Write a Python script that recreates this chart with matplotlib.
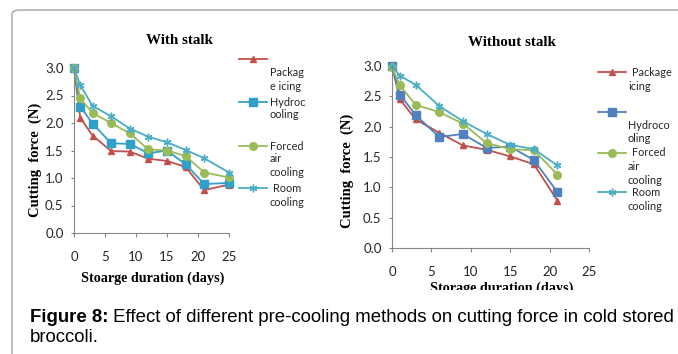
import matplotlib
matplotlib.use('Agg')
import matplotlib.pyplot as plt
from matplotlib.lines import Line2D
from matplotlib.patches import FancyBboxPatch, Rectangle

W, H = 678, 354

# with stalk
days_ws = [0, 1, 3, 6, 9, 12, 15, 18, 21, 25]
pkg_ws = [3.0, 2.1, 1.77, 1.49, 1.48, 1.35, 1.31, 1.2, 0.78, 0.88]
hydro_ws = [3.0, 2.3, 1.99, 1.63, 1.62, 1.45, 1.5, 1.25, 0.89, 0.91]
forced_ws = [3.0, 2.45, 2.18, 2.0, 1.81, 1.52, 1.5, 1.4, 1.1, 1.01]
room_ws = [3.0, 2.69, 2.31, 2.12, 1.9, 1.75, 1.65, 1.51, 1.36, 1.1]

# without stalk
days_wo = [0, 1, 3, 6, 9, 12, 15, 18, 21]
pkg_wo = [3.0, 2.45, 2.12, 1.9, 1.69, 1.62, 1.51, 1.38, 0.78]
hydro_wo = [3.0, 2.53, 2.19, 1.83, 1.88, 1.65, 1.67, 1.45, 0.92]
forced_wo = [2.98, 2.68, 2.36, 2.24, 2.05, 1.73, 1.63, 1.61, 1.21]
room_wo = [3.0, 2.84, 2.69, 2.34, 2.09, 1.88, 1.70, 1.63, 1.36]

yticks = [0.0, 0.5, 1.0, 1.5, 2.0, 2.5, 3.0]
xticks = [0, 5, 10, 15, 20, 25]

red = '#c0504d'
green = '#9bbb59'
teal = '#31a0c8'
cyan = '#4bacc6'
blue = '#4f81bd'
star = (6, 2, 0)

tick_font = 'Lato'
serif = 'Liberation Serif'


def px(x, y):
    return x / W, 1 - y / H


fig = plt.figure(figsize=(W / 100, H / 100), dpi=100)

# panel frame
frame = FancyBboxPatch(px(12, 400), (W + 20) / W, 390 / H,
                       boxstyle='round,pad=0,rounding_size=0.012',
                       transform=fig.transFigure, fill=False,
                       edgecolor='#b8b8b8', lw=1.3, clip_on=False)
fig.patches.append(frame)


def setup(ax):
    ax.set_xlim(0, 25)
    ax.set_ylim(0, 3.0)
    ax.set_xticks(xticks)
    ax.set_yticks(yticks)
    ax.set_yticklabels(['%.1f' % v for v in yticks])
    for s in ['top', 'right']:
        ax.spines[s].set_visible(False)
    for s in ['left', 'bottom']:
        ax.spines[s].set_color('#868686')
        ax.spines[s].set_linewidth(0.8)
    ax.tick_params(axis='x', length=3, width=0.8, color='#868686', pad=10)
    ax.tick_params(axis='y', length=2.5, width=0.8, color='#868686', pad=5)
    for lab in ax.get_xticklabels() + ax.get_yticklabels():
        lab.set_fontfamily(tick_font)
        lab.set_fontsize(9.5)
        lab.set_color('#262626')
    ax.patch.set_visible(False)


def series(ax, x, y, color, marker, ms):
    ax.plot(x, y, color=color, lw=1.3, marker=marker, ms=ms, mfc=color,
            mec=color, mew=1.0, clip_on=False)


def legend(entries, kx0, kx1, tx):
    for color, marker, ms, ky, lines in entries:
        fig.add_artist(Line2D([kx0 / W, kx1 / W], [1 - ky / H] * 2, color=color,
                              lw=1.3, transform=fig.transFigure))
        fig.add_artist(Line2D([(kx0 + kx1) / 2 / W], [1 - ky / H], color=color,
                              marker=marker, ms=ms, mew=1.0,
                              transform=fig.transFigure))
        for txt, dx, ty in lines:
            fig.text((tx + dx) / W, 1 - ty / H, txt, fontsize=7.8,
                     family=tick_font, color='#262626', va='center', ha='left')


# left: with stalk
ax1 = fig.add_axes([74 / W, 1 - 233 / H, 155 / W, 165 / H])
setup(ax1)
series(ax1, days_ws, pkg_ws, red, '^', 5)
series(ax1, days_ws, hydro_ws, teal, 's', 5.5)
series(ax1, days_ws, forced_ws, green, 'o', 5.5)
series(ax1, days_ws, room_ws, cyan, star, 5.5)
fig.text(179 / W, 1 - 40 / H, 'With stalk', family=serif, weight='bold',
         fontsize=10.8, ha='center', va='center')
fig.text(153 / W, 1 - 278 / H, 'Stoarge duration (days)', family=serif,
         weight='bold', fontsize=10.2, ha='center', va='center')
fig.text(35 / W, 1 - 160 / H, 'Cutting  force  (N)', family=serif,
         weight='bold', fontsize=10.5, ha='center', va='center', rotation=90)
legend([
    (red, '^', 5, 59, [('Packag', 0, 73), ('e icing', 0, 87)]),
    (teal, 's', 5.5, 102, [('Hydroc', 0, 102), ('ooling', 0, 115)]),
    (green, 'o', 5.5, 146, [('Forced', 0, 146), ('air', 0, 159), ('cooling', 0, 172)]),
    (cyan, star, 5.5, 188, [('Room', 3, 188), ('cooling', 0, 202)]),
], 239, 267, 270)

# right: without stalk
ax2 = fig.add_axes([392 / W, 1 - 248 / H, 197 / W, 182 / H])
setup(ax2)
series(ax2, days_wo, pkg_wo, red, '^', 5)
series(ax2, days_wo, hydro_wo, blue, 's', 5.5)
series(ax2, days_wo, forced_wo, green, 'o', 5.5)
series(ax2, days_wo, room_wo, cyan, star, 5.5)
fig.text(512 / W, 1 - 43 / H, 'Without stalk', family=serif, weight='bold',
         fontsize=10.8, ha='center', va='center')
fig.text(502 / W, 1 - 288 / H, 'Storage duration (days)', family=serif,
         weight='bold', fontsize=10.2, ha='center', va='center')
fig.text(347 / W, 1 - 171 / H, 'Cutting  force  (N)', family=serif,
         weight='bold', fontsize=10.5, ha='center', va='center', rotation=90)
legend([
    (red, '^', 5, 72, [('Package', 4, 72), ('icing', 0, 86)]),
    (blue, 's', 5.5, 112, [('Hydroco', 0, 126), ('oling', 0, 139)]),
    (green, 'o', 5.5, 153, [('Forced', 4, 153), ('air', 0, 167), ('cooling', 0, 180)]),
    (cyan, star, 5.5, 192, [('Room', 4, 192), ('cooling', 0, 206)]),
], 598, 626, 628)

# the source image is cut just under the right x label
fig.patches.append(Rectangle(px(330, 300), (W - 330) / W, 10.5 / H,
                             transform=fig.transFigure, facecolor='white',
                             edgecolor='none', zorder=5))

# caption
cap = fig.text(30 / W, 1 - 317 / H, 'Figure 8:', family='Liberation Sans',
               weight='bold', fontsize=13.4, va='center', ha='left', zorder=6)
fig.canvas.draw()
bb = cap.get_window_extent()
fig.text(bb.x1 / W, 1 - 317 / H,
         ' Effect of different pre-cooling methods on cutting force in cold stored',
         family='Liberation Sans', fontsize=13.4, va='center', ha='left', zorder=6)
fig.text(30 / W, 1 - 337 / H, 'broccoli.', family='Liberation Sans',
         fontsize=13.4, va='center', ha='left', zorder=6)

fig.savefig('out.png', dpi=100)
